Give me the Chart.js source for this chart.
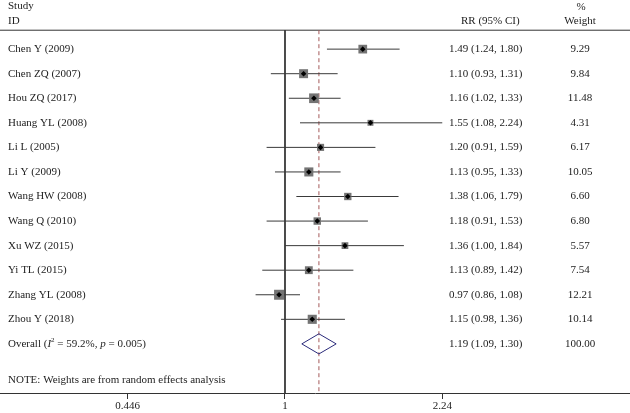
<!DOCTYPE html>
<html>
<head>
<meta charset="utf-8">
<script src="https://cdn.jsdelivr.net/npm/chart.js@4"></script>
<style>
  html, body { margin: 0; padding: 0; background: #fff; }
  #wrap { width: 630px; height: 413px; }
</style>
</head>
<body>
<div id="wrap"><canvas id="forest"></canvas></div>
<script>
// --- Data ---
const studies = ['Chen Y (2009)', 'Chen ZQ (2007)', 'Hou ZQ (2017)', 'Huang YL (2008)', 'Li L (2005)', 'Li Y (2009)',
  'Wang HW (2008)', 'Wang Q (2010)', 'Xu WZ (2015)', 'Yi TL (2015)', 'Zhang YL (2008)', 'Zhou Y (2018)'];
const rr = [1.49, 1.10, 1.16, 1.55, 1.20, 1.13, 1.38, 1.18, 1.36, 1.13, 0.97, 1.15];
const ciLow = [1.24, 0.93, 1.02, 1.08, 0.91, 0.95, 1.06, 0.91, 1.00, 0.89, 0.86, 0.98];
const ciHigh = [1.80, 1.31, 1.33, 2.24, 1.59, 1.33, 1.79, 1.53, 1.84, 1.42, 1.08, 1.36];
const weights = [9.29, 9.84, 11.48, 4.31, 6.17, 10.05, 6.60, 6.80, 5.57, 7.54, 12.21, 10.14];

const overall = { rr: 1.19, low: 1.09, high: 1.30, weight: 100.00, i2: '59.2%', p: '0.005' };
const tickValues = [0.446, 1, 2.24];
const tickLabels = ['0.446', '1', '2.24'];
const noteText = 'NOTE: Weights are from random effects analysis';

// --- Layout constants ---
const FONT = '11px "Liberation Serif", "DejaVu Serif", serif';
const TEXT_COLOR = '#222';
const HEADER_ROW = -0.77;
const AXIS_ROW = 14;
const OVERALL_ROW = studies.length;
const X_MIN = 0.2319, X_MAX = 5.866;

const datasets = [];

// diamonds at the point estimate
datasets.push({
  type: 'scatter', order: 0,
  data: rr.map((v, i) => ({ x: v, y: i })),
  pointStyle: 'rectRot', pointRadius: 2.8, backgroundColor: '#000', borderWidth: 0
});
// weight boxes
datasets.push({
  type: 'scatter', order: 1,
  data: rr.map((v, i) => ({ x: v, y: i })),
  pointStyle: 'rect',
  pointRadius: ctx => 2.02 * Math.sqrt(weights[ctx.dataIndex]),
  backgroundColor: '#747474', borderWidth: 0
});
// confidence intervals
studies.forEach((s, i) => {
  datasets.push({
    type: 'line', order: 2,
    data: [{ x: ciLow[i], y: i }, { x: ciHigh[i], y: i }],
    borderColor: '#3a3a3a', borderWidth: 1, pointRadius: 0
  });
});
// overall diamond
datasets.push({
  type: 'line', order: 2,
  data: [
    { x: overall.low, y: OVERALL_ROW }, { x: overall.rr, y: OVERALL_ROW - 0.41 },
    { x: overall.high, y: OVERALL_ROW }, { x: overall.rr, y: OVERALL_ROW + 0.41 },
    { x: overall.low, y: OVERALL_ROW }
  ],
  borderColor: '#2a2a7a', borderWidth: 1, pointRadius: 0, tension: 0
});
// null line
datasets.push({
  type: 'line', order: 3,
  data: [{ x: 1, y: HEADER_ROW }, { x: 1, y: AXIS_ROW }],
  borderColor: '#333', borderWidth: 1, pointRadius: 0
});
// overall estimate line
datasets.push({
  type: 'line', order: 3,
  data: [{ x: overall.rr, y: HEADER_ROW }, { x: overall.rr, y: AXIS_ROW }],
  borderColor: '#a45a5a', borderWidth: 1, borderDash: [4, 3], pointRadius: 0
});
// header rule
datasets.push({
  type: 'line', order: 3,
  data: [{ x: X_MIN, y: HEADER_ROW }, { x: X_MAX, y: HEADER_ROW }],
  borderColor: '#333', borderWidth: 1, pointRadius: 0
});

const textColumns = {
  id: 'textColumns',
  afterDatasetsDraw(chart) {
    const ctx = chart.ctx;
    const y = chart.scales.y;
    ctx.save();
    ctx.font = FONT;
    ctx.fillStyle = TEXT_COLOR;
    ctx.textBaseline = 'middle';

    // header
    ctx.textAlign = 'left';
    ctx.fillText('Study', 8, y.getPixelForValue(-1.76));
    ctx.fillText('ID', 8, y.getPixelForValue(-1.15));
    ctx.fillText('RR (95% CI)', 461, y.getPixelForValue(-1.15));
    ctx.textAlign = 'center';
    ctx.fillText('%', 581, y.getPixelForValue(-1.72));
    ctx.fillText('Weight', 580, y.getPixelForValue(-1.15));

    studies.forEach((s, i) => {
      const py = y.getPixelForValue(i);
      ctx.textAlign = 'left';
      ctx.fillText(s, 8, py);
      ctx.fillText(`${rr[i].toFixed(2)} (${ciLow[i].toFixed(2)}, ${ciHigh[i].toFixed(2)})`, 449, py);
      ctx.textAlign = 'center';
      ctx.fillText(weights[i].toFixed(2), 580, py);
    });

    // overall row with italic I, superscript 2 and italic p
    const oy = y.getPixelForValue(OVERALL_ROW);
    ctx.textAlign = 'left';
    const parts = [
      ['Overall (', FONT, 0],
      ['I', 'italic ' + FONT, 0],
      ['2', '7px "Liberation Serif", serif', -4],
      [` = ${overall.i2}, `, FONT, 0],
      ['p', 'italic ' + FONT, 0],
      [` = ${overall.p})`, FONT, 0]
    ];
    let px = 8;
    parts.forEach(([t, f, dy]) => {
      ctx.font = f;
      ctx.fillText(t, px, oy + dy);
      px += ctx.measureText(t).width;
    });
    ctx.font = FONT;
    ctx.fillText(`${overall.rr.toFixed(2)} (${overall.low.toFixed(2)}, ${overall.high.toFixed(2)})`, 449, oy);
    ctx.textAlign = 'center';
    ctx.fillText(overall.weight.toFixed(2), 580, oy);

    ctx.textAlign = 'left';
    ctx.fillText(noteText, 8, y.getPixelForValue(13.47));
    ctx.restore();
  }
};

new Chart(document.getElementById('forest'), {
  data: { datasets },
  options: {
    responsive: true,
    maintainAspectRatio: false,
    animation: false,
    layout: { padding: 0, autoPadding: false },
    plugins: { legend: { display: false }, tooltip: { enabled: false } },
    scales: {
      x: {
        type: 'logarithmic',
        min: X_MIN, max: X_MAX,
        afterBuildTicks: scale => { scale.ticks = tickValues.map(v => ({ value: v })); },
        afterFit: scale => { scale.height = 20; },
        ticks: {
          autoSkip: false, maxRotation: 0, padding: 1,
          color: TEXT_COLOR,
          font: { family: '"Liberation Serif", "DejaVu Serif", serif', size: 11 },
          callback: (v, i) => tickLabels[i]
        },
        grid: { display: true, drawOnChartArea: false, drawTicks: true, tickLength: 6, color: '#333' },
        border: { display: true, color: '#333', width: 1 }
      },
      y: {
        type: 'linear', display: false, reverse: true,
        min: -2, max: AXIS_ROW
      }
    }
  },
  plugins: [textColumns]
});
</script>
</body>
</html>
